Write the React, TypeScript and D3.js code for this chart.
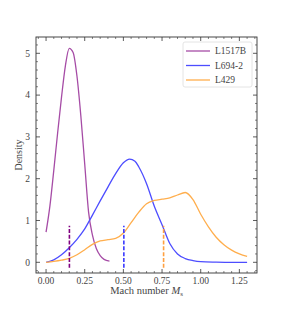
import React from "react";
import * as d3 from "d3";

// KDE curves (x = Mach number, y = density)
const l1517bX = [0.0, 0.025, 0.05, 0.075, 0.1, 0.125, 0.15, 0.175, 0.2, 0.225, 0.25, 0.275, 0.3, 0.325, 0.35, 0.375, 0.41];
const l1517bY = [0.72, 1.35, 2.2, 3.1, 3.95, 4.7, 5.12, 5.02, 4.45, 3.5, 2.35, 1.2, 0.65, 0.33, 0.16, 0.07, 0.03];

const l694X = [0.0, 0.05, 0.1, 0.15, 0.2, 0.25, 0.3, 0.35, 0.4, 0.45, 0.5, 0.54, 0.575, 0.6, 0.65, 0.7, 0.75, 0.8, 0.85, 0.9, 0.95, 1.0, 1.1, 1.2, 1.3];
const l694Y = [0.0, 0.06, 0.18, 0.35, 0.55, 0.8, 1.13, 1.47, 1.8, 2.12, 2.38, 2.47, 2.42, 2.28, 1.88, 1.34, 0.9, 0.45, 0.2, 0.09, 0.04, 0.015, 0.005, 0.0, 0.0];

const l429X = [0.0, 0.05, 0.1, 0.15, 0.2, 0.25, 0.3, 0.35, 0.4, 0.45, 0.5, 0.55, 0.6, 0.65, 0.7, 0.75, 0.8, 0.85, 0.9, 0.95, 1.0, 1.05, 1.1, 1.15, 1.2, 1.25, 1.3];
const l429Y = [0.0, 0.02, 0.05, 0.095, 0.18, 0.3, 0.43, 0.51, 0.54, 0.57, 0.7, 0.95, 1.2, 1.4, 1.48, 1.51, 1.54, 1.61, 1.67, 1.5, 1.15, 0.85, 0.6, 0.42, 0.29, 0.2, 0.14];

const seriesNames = ["L1517B", "L694-2", "L429"];
const lineColors = ["#a64ca6", "#4d4dff", "#ffae4d"];
const dashColors = ["#800080", "#3a3aff", "#ffa040"];
const medians = [0.151, 0.503, 0.76];

const xTicks = [0, 0.25, 0.5, 0.75, 1.0, 1.25];
const yTicks = [0, 1, 2, 3, 4, 5];

const App = () => {
  const width = 286, height = 312;
  const margin = { top: 37, right: 29, bottom: 39, left: 36 };
  const plotW = width - margin.left - margin.right;
  const plotH = height - margin.top - margin.bottom;

  const x = d3.scaleLinear().domain([-0.065, 1.364]).range([0, plotW]);
  const y = d3.scaleLinear().domain([-0.256, 5.39]).range([plotH, 0]);

  const line = d3.line<[number, number]>()
    .x(d => x(d[0]))
    .y(d => y(d[1]))
    .curve(d3.curveMonotoneX);

  const series = [
    d3.zip(l1517bX, l1517bY) as [number, number][],
    d3.zip(l694X, l694Y) as [number, number][],
    d3.zip(l429X, l429Y) as [number, number][],
  ];

  const xMinor = d3.range(-0.05, 1.36, 0.05).filter(v => !xTicks.some(t => Math.abs(t - v) < 1e-6));
  const yMinor = d3.range(-0.2, 5.39, 0.2).filter(v => !yTicks.some(t => Math.abs(t - v) < 1e-6));

  const font = "'Liberation Serif', 'DejaVu Serif', serif";
  const axisColor = "#333";
  const textColor = "#444";

  return (
    <svg width={width} height={height} style={{ position: "absolute", left: 0, top: 0 }} fontFamily={font}>
      <rect width={width} height={height} fill="#fff" />
      <g transform={`translate(${margin.left},${margin.top})`}>
        {series.map((s, i) => (
          <path key={i} d={line(s) || ""} fill="none" stroke={lineColors[i]} strokeWidth={1.3} />
        ))}
        {medians.map((m, i) => (
          <line key={i} x1={x(m)} x2={x(m)} y1={y(-0.13)} y2={y(0.875)}
            stroke={dashColors[i]} strokeWidth={1.6} strokeDasharray="4,1.8" />
        ))}

        {/* ticks, inward on all four sides */}
        {xTicks.map(t => (
          <g key={t}>
            <line x1={x(t)} x2={x(t)} y1={plotH} y2={plotH - 4} stroke={axisColor} strokeWidth={0.8} />
            <line x1={x(t)} x2={x(t)} y1={0} y2={4} stroke={axisColor} strokeWidth={0.8} />
            <text x={x(t)} y={plotH + 11} fontSize={9.5} textAnchor="middle" fill={textColor}>{t.toFixed(2)}</text>
          </g>
        ))}
        {xMinor.map(t => (
          <g key={"m" + t}>
            <line x1={x(t)} x2={x(t)} y1={plotH} y2={plotH - 2} stroke={axisColor} strokeWidth={0.6} />
            <line x1={x(t)} x2={x(t)} y1={0} y2={2} stroke={axisColor} strokeWidth={0.6} />
          </g>
        ))}
        {yTicks.map(t => (
          <g key={t}>
            <line x1={0} x2={4} y1={y(t)} y2={y(t)} stroke={axisColor} strokeWidth={0.8} />
            <line x1={plotW} x2={plotW - 4} y1={y(t)} y2={y(t)} stroke={axisColor} strokeWidth={0.8} />
            <text x={-6} y={y(t) + 3.3} fontSize={9.5} textAnchor="end" fill={textColor}>{t}</text>
          </g>
        ))}
        {yMinor.map(t => (
          <g key={"m" + t}>
            <line x1={0} x2={2} y1={y(t)} y2={y(t)} stroke={axisColor} strokeWidth={0.6} />
            <line x1={plotW} x2={plotW - 2} y1={y(t)} y2={y(t)} stroke={axisColor} strokeWidth={0.6} />
          </g>
        ))}
        <rect x={0} y={0} width={plotW} height={plotH} fill="none" stroke={axisColor} strokeWidth={0.9} />

        {/* legend */}
        <g transform={`translate(${plotW - 74},5)`}>
          <rect x={0} y={0} width={69} height={45} rx={2} fill="#fff" fillOpacity={0.8} stroke="#ddd" strokeWidth={0.8} />
          {seriesNames.map((n, i) => (
            <g key={n} transform={`translate(0,${9 + i * 14.5})`}>
              <line x1={3} x2={27} y1={0} y2={0} stroke={lineColors[i]} strokeWidth={1.3} />
              <text x={32} y={3.3} fontSize={9.5} fill={textColor}>{n}</text>
            </g>
          ))}
        </g>
      </g>

      <text x={margin.left + plotW / 2} y={294} fontSize={10.5} textAnchor="middle" fill={textColor}>
        Mach number <tspan fontStyle="italic">M</tspan><tspan fontSize={7} dy={2}>s</tspan>
      </text>
      <text transform={`translate(22,${margin.top + plotH / 2}) rotate(-90)`} fontSize={10} textAnchor="middle" fill={textColor}>Density</text>
    </svg>
  );
};

export default App;
